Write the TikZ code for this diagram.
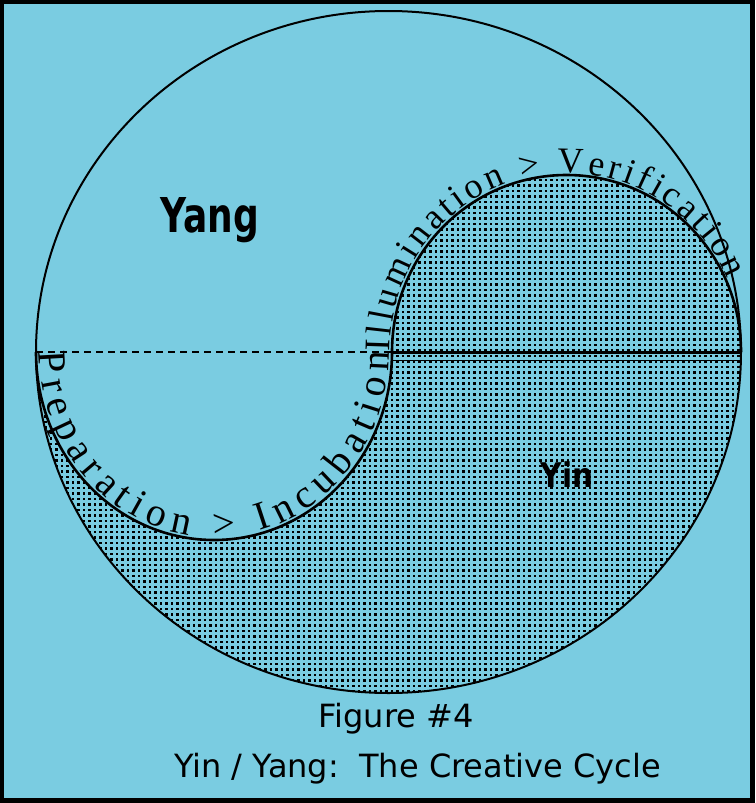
\documentclass[tikz,border=0pt]{standalone}
\usepackage{fontspec}
\usepackage{graphicx}
\usetikzlibrary{patterns,decorations.text}
\newfontfamily\capfont{DejaVu Sans}
\newfontfamily\curvefont{Liberation Serif}
\definecolor{skyb}{RGB}{122,204,225}
\pgfdeclarepatternformonly{yindots}{\pgfqpoint{-1pt}{-1pt}}{\pgfqpoint{6.5pt}{6.5pt}}{\pgfqpoint{5.5pt}{5.5pt}}{\pgfpathrectangle{\pgfqpoint{0pt}{0pt}}{\pgfqpoint{2.8pt}{2.8pt}}\pgfusepath{fill}}
\tikzset{
  outline/.style={draw=black, line width=2pt},
  bumpline/.style={draw=black, line width=2.6pt},
  bigword/.style={font=\capfont\bfseries\fontsize{48}{48}\selectfont, anchor=base, inner sep=0pt},
  caption/.style={font=\capfont\fontsize{32}{32}\selectfont, anchor=base, inner sep=0pt},
}
\begin{document}
\begin{tikzpicture}[x=1pt,y=-1pt]
\fill[black] (0,0) rectangle (755,803);
\fill[skyb] (4,4) rectangle (750,798);
\useasboundingbox (0,0) rectangle (755,803);
\coordinate (C) at (388.5,352);
\coordinate (L) at (36,352);
\coordinate (R) at (741,352);
\coordinate (M) at (392,352);
% Yin region
\fill[pattern=yindots, pattern color=black]
  (M) arc[start angle=180, end angle=360, x radius=174.5, y radius=177]
      arc[start angle=0, end angle=180, x radius=352.5, y radius=341]
      arc[start angle=180, end angle=0, x radius=178, y radius=188] -- cycle;
% outlines
\draw[outline] (C) ellipse[x radius=352.5, y radius=341];
\draw[bumpline] (M) arc[start angle=180, end angle=360, x radius=174.5, y radius=177];
\draw[bumpline] (L) arc[start angle=180, end angle=0, x radius=178, y radius=188];
% diameter
\draw[line width=2pt, dash pattern=on 7pt off 5pt] (L) -- (M);
\draw[line width=3pt] (M) -- (R);
\coordinate (M2) at (392,360.5);
\coordinate (R2) at (740,360.5);
\draw[line width=1.5pt] (M2) -- (R2);
% curved texts
\path[decorate, decoration={text along path,
   text={|\curvefont\fontsize{40}{40}\selectfont|Preparation > Incubation},
   text align=fit to path, raise=3pt}]
  (L) arc[start angle=180, end angle=0, x radius=178, y radius=188];
\path[decorate, decoration={text along path,
   text={|\curvefont\fontsize{36}{36}\selectfont|Illumination > Verification},
   text align=fit to path, raise=2pt}]
  (M) arc[start angle=180, end angle=336, x radius=174.5, y radius=177];
% labels
\node[bigword] (yang) at (210,232) {\scalebox{0.75}[1]{Yang}};
\node[bigword, font=\capfont\bfseries\fontsize{34}{34}\selectfont] (yin) at (567,487) {\scalebox{0.87}[1]{Yin}};
\node[caption] (fig) at (396,727) {Figure \#4};
\node[caption] (cap) at (417.5,777) {Yin / Yang:\ \ The Creative Cycle};
\end{tikzpicture}
\end{document}
